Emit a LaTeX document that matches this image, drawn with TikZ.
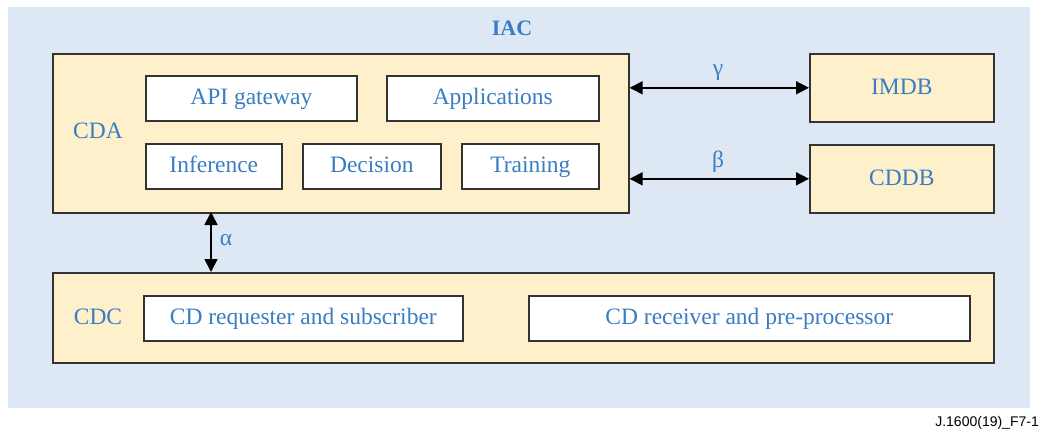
\documentclass[tikz,border=0pt]{standalone}
\usepackage{fontspec}
\setmainfont{Liberation Serif}
\newfontfamily\arialfont{Liberation Sans}
\usetikzlibrary{arrows.meta}
\definecolor{bgblue}{HTML}{DDE8F4}
\definecolor{tan}{HTML}{FFF0CC}
\definecolor{txtblue}{HTML}{3A7DC2}
\definecolor{edge}{HTML}{333333}
\tikzset{
  outer/.style={draw=edge, line width=1.6pt, fill=tan, inner sep=0pt},
  inner/.style={draw=edge, line width=1.6pt, fill=white, inner sep=0pt},
  lbl/.style={text=txtblue, font=\fontsize{23.5}{26}\selectfont, inner sep=0pt, text height=17.5pt, text depth=4.5pt},
  arr/.style={line width=1.6pt, {Triangle[length=13pt,width=13pt]}-{Triangle[length=13pt,width=13pt]}}
}
\begin{document}
\begin{tikzpicture}
\useasboundingbox (0,0) rectangle (1040pt,-432pt);
\fill[bgblue] (8pt,-7pt) rectangle (1030pt,-408pt);
\node[font=\bfseries\fontsize{22}{26}\selectfont, text=txtblue, inner sep=0pt] (iac) at (512pt,-28pt) {IAC};
% CDA
\node[outer, minimum width=576pt, minimum height=159pt, anchor=north west] (cda) at (52pt,-53pt) {};
\node[lbl] (cdal) at (98pt,-132pt) {CDA};
\node[inner, minimum width=211pt, minimum height=45pt, anchor=north west] (api) at (145pt,-75pt) {};
\node[lbl] (apil) at (api.center) {API gateway};
\node[inner, minimum width=212pt, minimum height=45pt, anchor=north west] (app) at (386pt,-75pt) {};
\node[lbl] (appl) at (app.center) {Applications};
\node[inner, minimum width=136pt, minimum height=45pt, anchor=north west] (inf) at (145pt,-143pt) {};
\node[lbl] (infl) at (inf.center) {Inference};
\node[inner, minimum width=138pt, minimum height=45pt, anchor=north west] (dec) at (302pt,-143pt) {};
\node[lbl] (decl) at (dec.center) {Decision};
\node[inner, minimum width=137pt, minimum height=45pt, anchor=north west] (tra) at (461pt,-143pt) {};
\node[lbl] (tral) at (tra.center) {Training};
% DBs
\node[outer, minimum width=184pt, minimum height=68pt, anchor=north west] (imdb) at (809pt,-53pt) {};
\node[lbl] (imdbl) at (imdb.center) {IMDB};
\node[outer, minimum width=184pt, minimum height=68pt, anchor=north west] (cddb) at (809pt,-144pt) {};
\node[lbl] (cddbl) at (cddb.center) {CDDB};
% CDC
\node[outer, minimum width=941pt, minimum height=90pt, anchor=north west] (cdc) at (52pt,-272pt) {};
\node[lbl] (cdcl) at (98pt,-318pt) {CDC};
\node[inner, minimum width=319pt, minimum height=45pt, anchor=north west] (req) at (143pt,-295pt) {};
\node[lbl] (reql) at (req.center) {CD requester and subscriber};
\node[inner, minimum width=441pt, minimum height=45pt, anchor=north west] (rec) at (528pt,-295pt) {};
\node[lbl] (recl) at (rec.center) {CD receiver and pre-processor};
% arrows
\coordinate (g1) at (cda.east |- imdb.center);
\draw[arr] (g1) -- (imdb.west);
\node[lbl] (gam) at (718pt,-69pt) {γ};
\coordinate (b1) at (cda.east |- cddb.center);
\draw[arr] (b1) -- (cddb.west);
\node[lbl] (bet) at (718pt,-161pt) {β};
\coordinate (a1) at (211pt,-212pt);
\coordinate (a2) at (211pt,-272pt);
\draw[arr] (a1) -- (a2);
\node[lbl] (alp) at (226pt,-239pt) {α};
% footer
\node[font=\arialfont\fontsize{14}{16}\selectfont, anchor=east, inner sep=0pt] (foot) at (1039pt,-423pt) {J.1600(19)\_F7-1};
\end{tikzpicture}
\end{document}
